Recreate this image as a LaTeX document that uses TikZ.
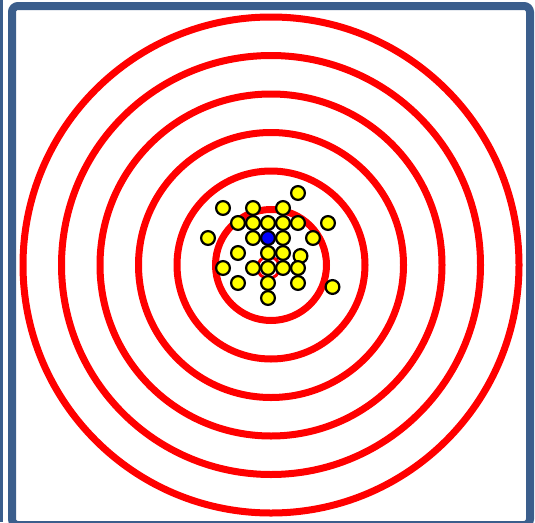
\documentclass[tikz,border=0pt]{standalone}
\definecolor{framebl}{RGB}{59,94,140}
\definecolor{ringred}{RGB}{255,0,0}
\definecolor{dotyel}{RGB}{255,255,0}
\definecolor{dotblu}{RGB}{0,0,255}
\tikzset{
  ring/.style={draw=ringred,line width=7pt},
  shot/.style={draw=black,fill=dotyel,line width=2.2pt},
  centershot/.style={draw=black,fill=dotblu,line width=2.2pt},
  framebox/.style={draw=framebl,line width=8pt,rounded corners=6pt}
}
\begin{document}
\begin{tikzpicture}[x=1pt,y=-1pt]
\useasboundingbox[clip] (0,0) rectangle (535,522);
\fill[white] (0,0) rectangle (535,522);
% left strip
\fill[framebl] (0,0) rectangle (3,522);
% frame
\draw[framebox] (12,6) rectangle (530,525);
% rings
\coordinate (c) at (271,265);
\foreach \r in {248,209.5,171,132.5,94,55.5}{
  \draw[ring] (c) circle[radius=\r];
}
\draw[draw=ringred,line width=3pt] (268.5,267.5) circle[radius=11];
% shots
\foreach \p in {(298,193),(223,208),(253,208),(283,208),
  (238,223),(253,223),(268,223),(283,223),(298,223),(328,223),
  (208,238),(253,238),(283,238),(313,238),
  (238,253),(268,253),(283,253),(300.5,256),
  (223,268),(253,268),(268,268),(283,268),(298,268),
  (238,283),(268,283),(298,283),(332.5,287),(268,298)}{
  \draw[shot] \p circle[radius=6.9];
}
\draw[centershot] (268,238) circle[radius=6.9];
\end{tikzpicture}
\end{document}
